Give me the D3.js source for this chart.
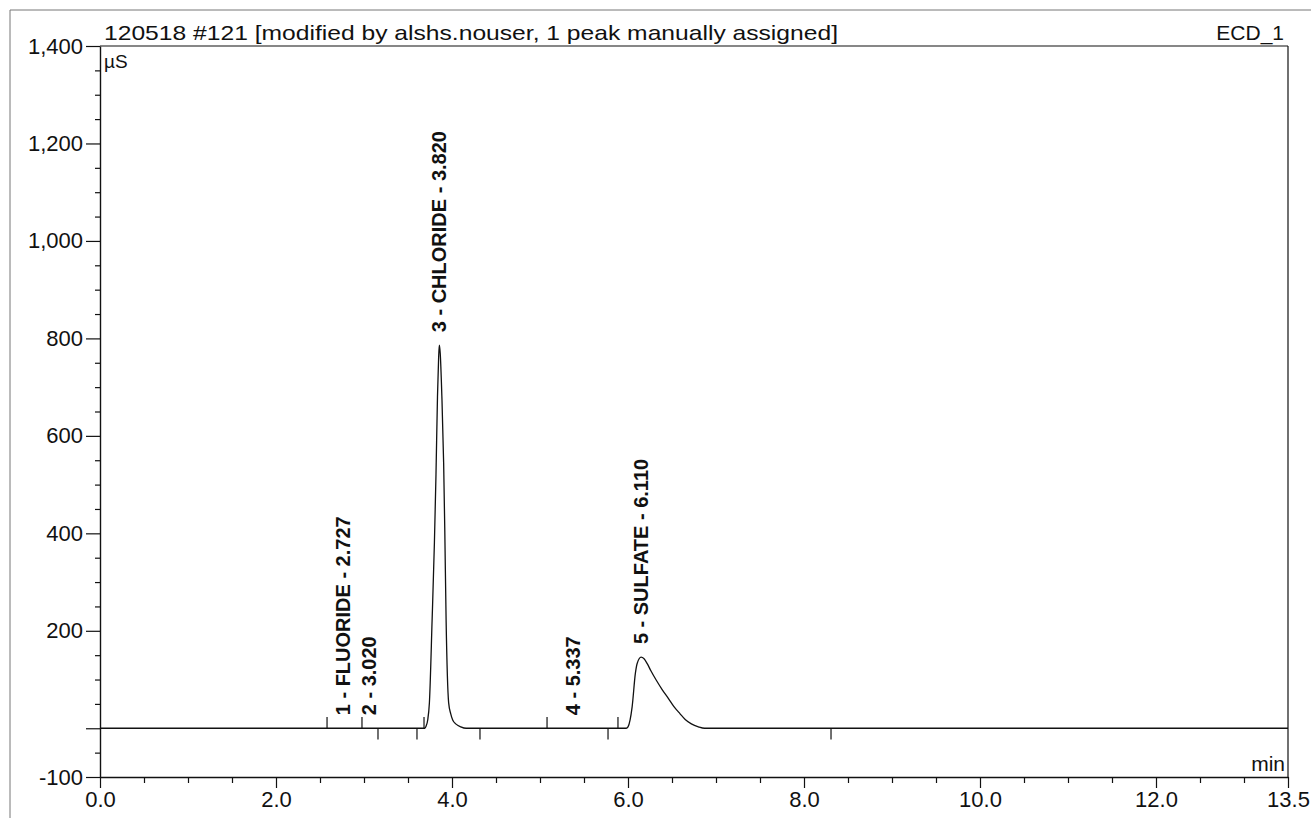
<!DOCTYPE html>
<html>
<head>
<meta charset="utf-8">
<script src="https://cdn.jsdelivr.net/npm/d3@7/dist/d3.min.js"></script>
<style>
  html, body { margin: 0; padding: 0; background: #fff; }
  svg { display: block; }
  text { font-family: "Liberation Sans", Arial, sans-serif; fill: #111; }
</style>
</head>
<body>
<svg id="chart" width="1311" height="818"></svg>
<script>
// ---- data ----
const titleText = "120518 #121 [modified by alshs.nouser, 1 peak manually assigned]";
const channelText = "ECD_1";
const yUnit = "µS";
const xUnit = "min";

const xMajorTicks = [0, 2, 4, 6, 8, 10, 12, 13.5];
const xMinorTicks = [0.5, 1, 1.5, 2.5, 3, 3.5, 4.5, 5, 5.5, 6.5, 7, 7.5, 8.5, 9, 9.5, 10.5, 11, 11.5, 12.5, 13];
const yMajorTicks = [-100, 0, 200, 400, 600, 800, 1000, 1200, 1400];
const yMinorTicks = [-50, 50, 100, 150, 250, 300, 350, 450, 500, 550, 650, 700, 750, 850, 900, 950, 1050, 1100, 1150, 1250, 1300, 1350];

// chromatogram trace (time in min, signal in µS)
const traceTime  = [0, 3.69, 3.705, 3.724, 3.743, 3.774, 3.80, 3.818, 3.835, 3.848, 3.856, 3.866, 3.885, 3.905, 3.918, 3.933, 3.962, 3.985, 4.008, 4.05, 4.10, 4.16, 5.98, 6.0, 6.047, 6.084, 6.104, 6.149, 6.18, 6.22, 6.26, 6.32, 6.39, 6.46, 6.52, 6.59, 6.65, 6.72, 6.80, 6.87, 13.5];
const traceValue = [0, 0, 4, 17, 52, 222, 380, 520, 680, 760, 786, 770, 680, 545, 407, 222, 52, 30, 17, 8, 3, 0, 0, 3, 44, 113, 133, 146, 143, 132, 118, 99, 79, 61, 45, 30, 18, 9, 3, 0, 0];

// peak labels
const peakLabels = ["1 - FLUORIDE - 2.727", "2 - 3.020", "3 - CHLORIDE - 3.820", "4 - 5.337", "5 - SULFATE - 6.110"];
const peakTimes  = [2.727, 3.020, 3.820, 5.337, 6.110];
const peakHeights = [0, 0, 786, 0, 146];

// integration delimiters (peak start = up mark, peak end = down mark)
const delimStart = [2.58, 2.977, 3.682, 5.08, 5.886];
const delimEnd   = [3.159, 3.602, 4.318, 5.773, 8.307];

// ---- drawing ----
const svg = d3.select("#chart");
const pL = 100, pR = 1288, pT = 46, pB = 777;

const x = d3.scaleLinear().domain([0, 13.5]).range([pL, pR]);
const y = d3.scaleLinear().domain([-100, 1400]).range([pB, pT]);

// outer frame (scanned page border)
svg.append("line").attr("x1", 10).attr("x2", 10).attr("y1", 10).attr("y2", 818)
  .attr("stroke", "#777").attr("stroke-width", 1);
svg.append("line").attr("x1", 10).attr("x2", 1311).attr("y1", 10).attr("y2", 10)
  .attr("stroke", "#777").attr("stroke-width", 1);

// plot top & right border
svg.append("line").attr("x1", pL).attr("x2", pR).attr("y1", pT).attr("y2", pT)
  .attr("stroke", "#111").attr("stroke-width", 1.2);
svg.append("line").attr("x1", pR).attr("x2", pR).attr("y1", pT).attr("y2", pB)
  .attr("stroke", "#111").attr("stroke-width", 1.2);

// Y axis
const fmtY = d3.format(",");
const yAxisMajor = d3.axisLeft(y).tickValues(yMajorTicks).tickSize(14).tickSizeOuter(0).tickPadding(3)
  .tickFormat(d => d === 0 ? "" : fmtY(d).replace("\u2212", "-"));
const gy = svg.append("g").attr("transform", `translate(${pL},0)`).call(yAxisMajor);
const yAxisMinor = d3.axisLeft(y).tickValues(yMinorTicks).tickSize(5).tickSizeOuter(0).tickFormat("");
const gy2 = svg.append("g").attr("transform", `translate(${pL},0)`).call(yAxisMinor);
gy2.select(".domain").remove();

// X axis
const xAxisMajor = d3.axisBottom(x).tickValues(xMajorTicks).tickSize(11).tickSizeOuter(0).tickPadding(3)
  .tickFormat(d3.format(".1f"));
const gx = svg.append("g").attr("transform", `translate(0,${pB})`).call(xAxisMajor);
const xAxisMinor = d3.axisBottom(x).tickValues(xMinorTicks).tickSize(6).tickSizeOuter(0).tickFormat("");
const gx2 = svg.append("g").attr("transform", `translate(0,${pB})`).call(xAxisMinor);
gx2.select(".domain").remove();

[gy, gy2, gx, gx2].forEach(g => {
  g.selectAll("path, line").attr("stroke", "#111").attr("stroke-width", 1.2);
  g.selectAll("text").style("font-size", "22px").style("font-family", '"Liberation Sans", Arial, sans-serif').attr("fill", "#111");
});
gy.select(".domain").attr("stroke-width", 1.4);
gx.select(".domain").attr("stroke-width", 1.4);

// title, channel, units
svg.append("text").attr("x", 104).attr("y", 40).style("font-size", "21px")
  .attr("textLength", 734).attr("lengthAdjust", "spacingAndGlyphs").text(titleText);
svg.append("text").attr("x", 1284).attr("y", 40).attr("text-anchor", "end").style("font-size", "21px")
  .text(channelText);
svg.append("text").attr("x", 104).attr("y", 68).style("font-size", "19px").text(yUnit);
svg.append("text").attr("x", 1285).attr("y", 771).attr("text-anchor", "end").style("font-size", "21px").text(xUnit);

// chromatogram trace
const pts = traceTime.map((t, i) => [t, traceValue[i]]);
const line = d3.line().x(d => x(d[0])).y(d => y(d[1])).curve(d3.curveMonotoneX);
svg.append("path").datum(pts).attr("d", line)
  .attr("fill", "none").attr("stroke", "#111").attr("stroke-width", 1.3);

// delimiter marks
svg.selectAll(".dstart").data(delimStart).enter().append("line")
  .attr("x1", d => x(d)).attr("x2", d => x(d))
  .attr("y1", y(0)).attr("y2", y(23))
  .attr("stroke", "#111").attr("stroke-width", 1.2);
svg.selectAll(".dend").data(delimEnd).enter().append("line")
  .attr("x1", d => x(d)).attr("x2", d => x(d))
  .attr("y1", y(0)).attr("y2", y(-23))
  .attr("stroke", "#111").attr("stroke-width", 1.2);

// peak labels (rotated)
svg.selectAll(".plabel").data(peakLabels).enter().append("text")
  .attr("transform", (d, i) => `translate(${x(peakTimes[i]) + 3},${y(peakHeights[i]) - 13}) rotate(-90)`)
  .attr("dominant-baseline", "central")
  .style("font-size", "20px").style("font-weight", "bold")
  .text(d => d);
</script>
</body>
</html>
